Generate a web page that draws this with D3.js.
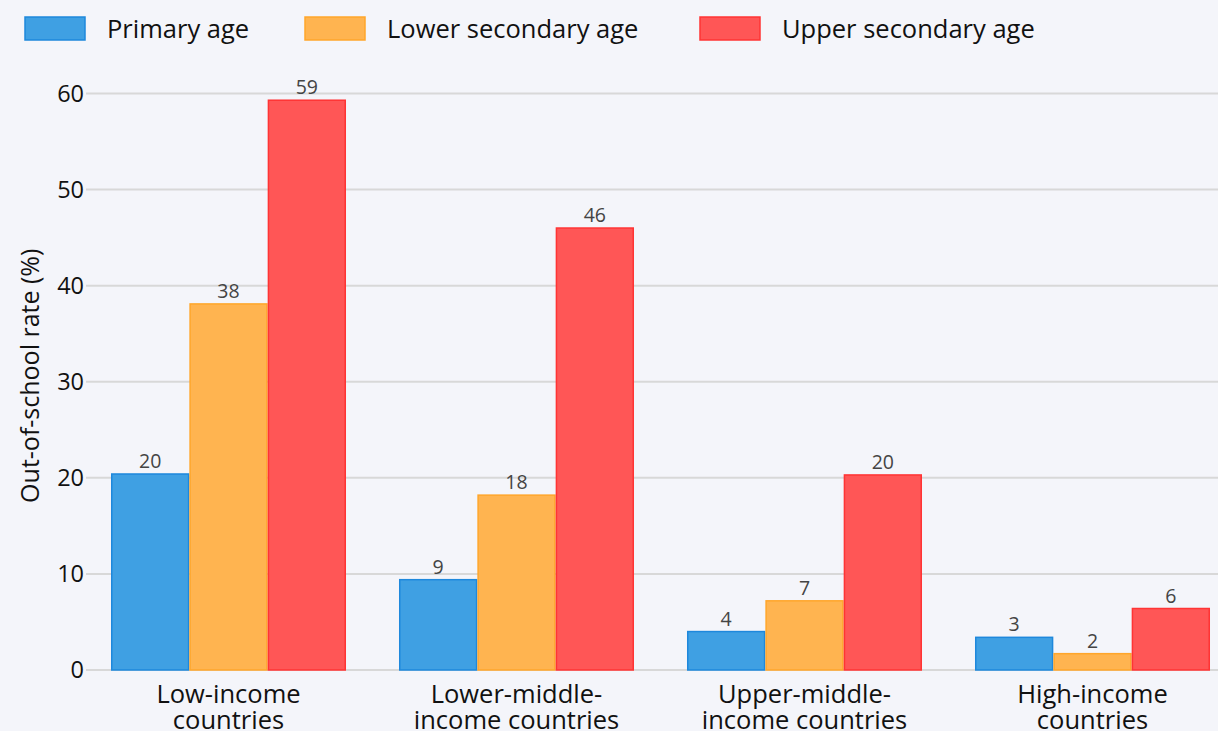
<!DOCTYPE html>
<html>
<head>
<meta charset="utf-8">
<script src="https://cdn.jsdelivr.net/npm/d3@7"></script>
<style>
  html, body { margin: 0; padding: 0; background: #f4f5fa; }
  svg { display: block; font-family: "Open Sans", "Noto Sans", sans-serif; }
</style>
</head>
<body>
<div id="chart"></div>
<script>
// data
const categories = [
    ["Low-income", "countries"],
    ["Lower-middle-", "income countries"],
    ["Upper-middle-", "income countries"],
    ["High-income", "countries"]
];
const seriesNames = ["Primary age", "Lower secondary age", "Upper secondary age"];
const primaryAge = [20.4, 9.4, 4.0, 3.4];
const lowerSecondaryAge = [38.1, 18.2, 7.2, 1.7];
const upperSecondaryAge = [59.3, 46.0, 20.3, 6.4];
const yTicks = [0, 10, 20, 30, 40, 50, 60];

const fills = ["#3fa0e3", "#ffb450", "#ff5656"];
const strokes = ["#1e88dc", "#ffa62b", "#ff3434"];

const WIDTH = 1218, HEIGHT = 731;
const PLOT = { left: 86, right: 1218, top: 60, bottom: 670 };

const svg = d3.select('#chart')
    .append('svg')
    .attr('width', WIDTH)
    .attr('height', HEIGHT);

svg.append('rect')
    .attr('width', WIDTH)
    .attr('height', HEIGHT)
    .attr('fill', '#f4f5fa');

const series = [primaryAge, lowerSecondaryAge, upperSecondaryAge];
const catKeys = categories.map(c => c.join(' '));

// the band range runs past the right edge, the chart is cropped there
const x0 = d3.scaleBand()
    .domain(catKeys)
    .range([84.5, 1236.5])
    .paddingInner(0.184)
    .paddingOuter(0.092);

const x1 = d3.scaleBand()
    .domain(seriesNames)
    .range([0, x0.bandwidth()]);

const y = d3.scaleLinear()
    .domain([0, 60])
    .range([PLOT.bottom, 93.5]);

// gridlines
svg.append('g')
    .selectAll('line')
    .data(yTicks)
    .join('line')
    .attr('x1', PLOT.left)
    .attr('x2', PLOT.right)
    .attr('y1', d => y(d))
    .attr('y2', d => y(d))
    .attr('stroke', '#d8d8d8')
    .attr('stroke-width', 2);

// y tick labels
svg.append('g')
    .selectAll('text')
    .data(yTicks)
    .join('text')
    .attr('x', 84)
    .attr('y', d => y(d))
    .attr('dy', '0.36em')
    .attr('text-anchor', 'end')
    .style('font-size', '23.5px')
    .attr('fill', '#111')
    .text(d => d);

// y axis title
svg.append('text')
    .attr('transform', `translate(39, ${(PLOT.bottom + 93.5) / 2 - 6}) rotate(-90)`)
    .attr('text-anchor', 'middle')
    .style('font-size', '25px')
    .attr('fill', '#111')
    .text('Out-of-school rate (%)');

// bars
const groups = svg.append('g')
    .selectAll('g')
    .data(catKeys)
    .join('g')
    .attr('transform', d => `translate(${x0(d)},0)`);

groups.selectAll('rect')
    .data((d, i) => seriesNames.map((s, j) => ({ s, j, v: series[j][i] })))
    .join('rect')
    .attr('x', d => x1(d.s) + 0.75)
    .attr('width', x1.bandwidth() - 1.5)
    .attr('y', d => y(d.v))
    .attr('height', d => y(0) - y(d.v))
    .attr('fill', d => fills[d.j])
    .attr('stroke', d => strokes[d.j])
    .attr('stroke-width', 1.5);

// value labels
groups.selectAll('text')
    .data((d, i) => seriesNames.map((s, j) => ({ s, j, v: series[j][i] })))
    .join('text')
    .attr('x', d => x1(d.s) + x1.bandwidth() / 2)
    .attr('y', d => y(d.v) - 6)
    .attr('text-anchor', 'middle')
    .style('font-size', '19.5px')
    .attr('fill', '#444')
    .text(d => Math.round(d.v));

// category labels, one text per line
svg.append('g')
    .selectAll('text')
    .data(categories.flatMap((c, i) => c.map((line, k) => ({ line, i, k }))))
    .join('text')
    .attr('x', d => x0(catKeys[d.i]) + x0.bandwidth() / 2)
    .attr('y', d => 703 + d.k * 26)
    .attr('text-anchor', 'middle')
    .style('font-size', '25.5px')
    .attr('fill', '#111')
    .text(d => d.line);

// legend
const legendX = [25, 305, 700];
const legend = svg.append('g')
    .selectAll('g')
    .data(seriesNames)
    .join('g')
    .attr('transform', (d, i) => `translate(${legendX[i]}, 17)`);

legend.append('rect')
    .attr('width', 60)
    .attr('height', 23)
    .attr('fill', (d, i) => fills[i])
    .attr('stroke', (d, i) => strokes[i])
    .attr('stroke-width', 1.5);

legend.append('text')
    .attr('x', 82)
    .attr('y', 11.5)
    .attr('dy', '0.36em')
    .style('font-size', '25.5px')
    .attr('fill', '#111')
    .text(d => d);
</script>
</body>
</html>
